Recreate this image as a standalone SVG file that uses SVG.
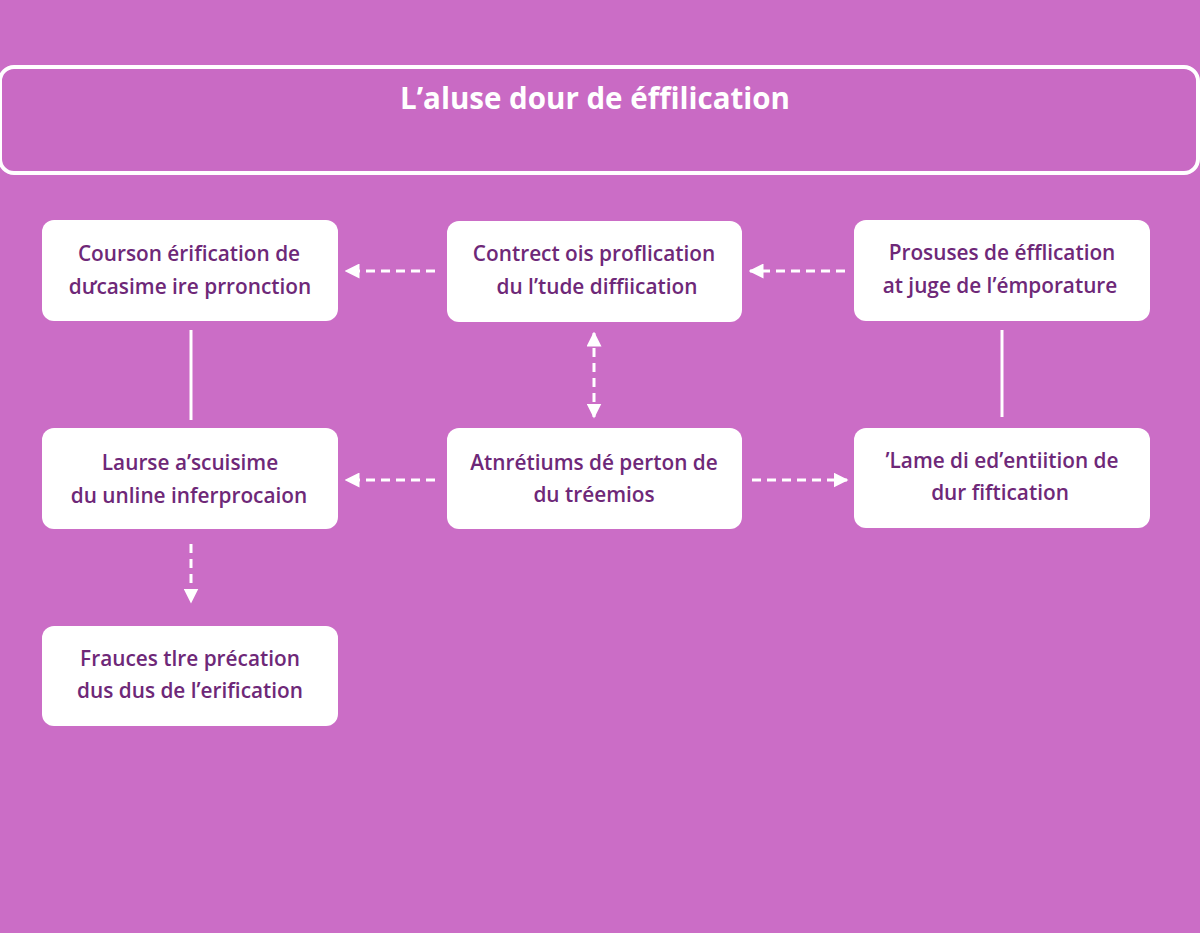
<svg xmlns="http://www.w3.org/2000/svg" width="1200" height="933" viewBox="0 0 1200 933">
  <defs>
    <marker id="ah" viewBox="0 0 10 10" refX="9" refY="5" markerWidth="5" markerHeight="5" orient="auto-start-reverse" markerUnits="strokeWidth">
      <path d="M0,0 L10,5 L0,10 Z" fill="#ffffff"/>
    </marker>
    <style>
      .node rect { fill: #ffffff; }
      .node text { font-family: "Open Sans", "Noto Sans", sans-serif; font-weight: 600; font-size: 20.8px; fill: #6e2878; text-anchor: middle; }
      .dash { stroke: #ffffff; stroke-width: 3; stroke-dasharray: 9 6; fill: none; }
      .solid { stroke: #ffffff; stroke-width: 3; fill: none; }
    </style>
  </defs>
  <rect width="1200" height="933" fill="#cb6dc6"/>
  <g id="title">
    <rect x="0" y="67" width="1198" height="106" rx="14" fill="#c96ac4" stroke="#ffffff" stroke-width="4"/>
    <text x="595" y="109" font-family="Open Sans, Noto Sans, sans-serif" font-weight="700" font-size="29.5" fill="#ffffff" text-anchor="middle">L’aluse dour de éffilication</text>
  </g>
  <g id="connectors">
    <line class="dash" x1="435" y1="271" x2="346" y2="271" marker-end="url(#ah)"/>
    <line class="dash" x1="845" y1="271" x2="750" y2="271" marker-end="url(#ah)"/>
    <line class="solid" x1="191" y1="330" x2="191" y2="420"/>
    <line class="solid" x1="1002" y1="330" x2="1002" y2="417"/>
    <line class="dash" x1="594" y1="333" x2="594" y2="417" marker-start="url(#ah)" marker-end="url(#ah)"/>
    <line class="dash" x1="435" y1="480" x2="346" y2="480" marker-end="url(#ah)"/>
    <line class="dash" x1="752" y1="480" x2="847" y2="480" marker-end="url(#ah)"/>
    <line class="dash" x1="191" y1="544" x2="191" y2="602" marker-end="url(#ah)"/>
  </g>
  <g id="nodeA" class="node">
    <rect x="42" y="220" width="296" height="101" rx="12"/>
    <text x="189" y="261">Courson érification de</text>
    <text x="190" y="294">dưcasime ire prronction</text>
  </g>
  <g id="nodeB" class="node">
    <rect x="447" y="221" width="295" height="101" rx="12"/>
    <text x="594" y="261">Contrect ois proflication</text>
    <text x="597" y="294">du l’tude diffiication</text>
  </g>
  <g id="nodeC" class="node">
    <rect x="854" y="220" width="296" height="101" rx="12"/>
    <text x="1002" y="260">Prosuses de éfflication</text>
    <text x="1000" y="293">at juge de l’émporature</text>
  </g>
  <g id="nodeD" class="node">
    <rect x="42" y="428" width="296" height="101" rx="12"/>
    <text x="190" y="470">Laurse a’scuisime</text>
    <text x="189" y="503">du unline inferprocaion</text>
  </g>
  <g id="nodeE" class="node">
    <rect x="447" y="428" width="295" height="101" rx="12"/>
    <text x="594" y="470">Atnrétiums dé perton de</text>
    <text x="594" y="502">du tréemios</text>
  </g>
  <g id="nodeF" class="node">
    <rect x="854" y="428" width="296" height="100" rx="12"/>
    <text x="1002" y="468">’Lame di ed’entiition de</text>
    <text x="1000" y="500">dur fiftication</text>
  </g>
  <g id="nodeG" class="node">
    <rect x="42" y="626" width="296" height="100" rx="12"/>
    <text x="190" y="666">Frauces tlre précation</text>
    <text x="190" y="698">dus dus de l’erification</text>
  </g>
</svg>
